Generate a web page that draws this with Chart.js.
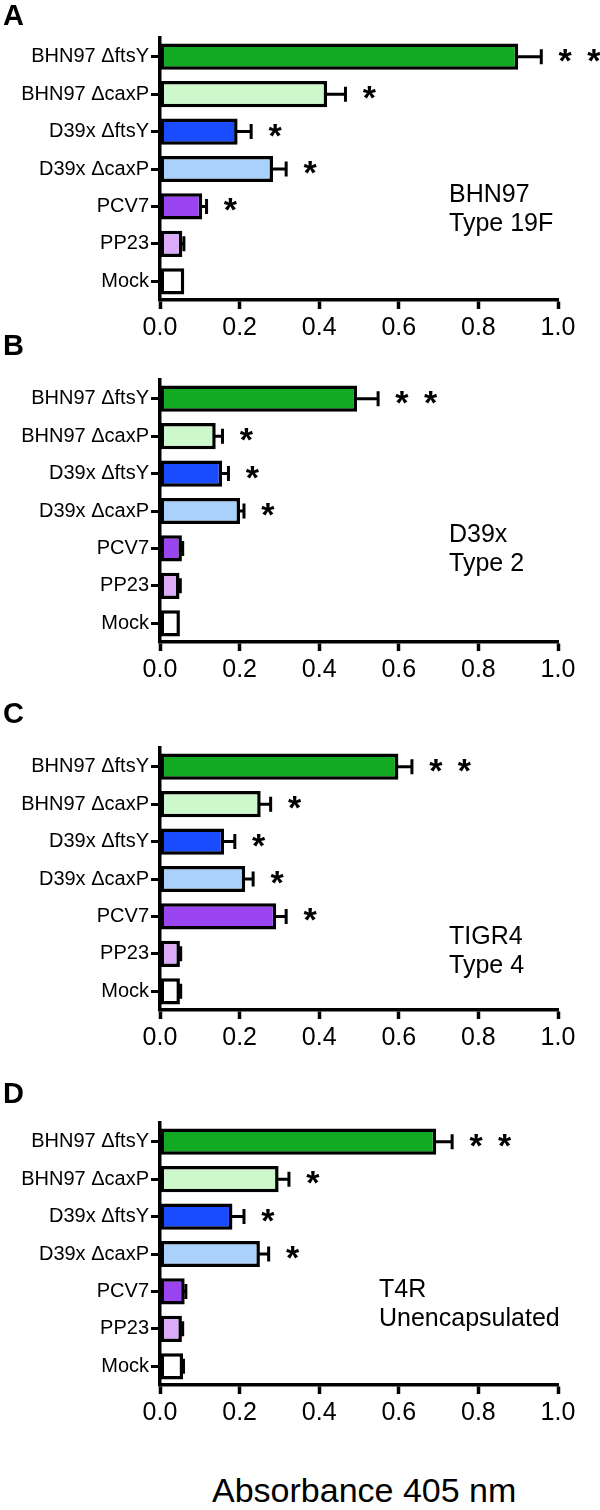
<!DOCTYPE html>
<html>
<head>
<meta charset="utf-8">
<script src="https://cdn.jsdelivr.net/npm/chart.js@4.4.1/dist/chart.umd.min.js"></script>
<style>
  body { margin: 0; background: #fff; width: 600px; height: 1510px; position: relative; overflow: hidden;
         font-family: "Liberation Sans", Arial, sans-serif; }
  .panel { position: absolute; left: 0; width: 600px; }
  #xtitle { position: absolute; left: 212px; top: 1473px; font-size: 34px; line-height: 34px; color: #000; white-space: nowrap; }
</style>
</head>
<body>
<div class="panel" style="top:0px;height:345px"><canvas id="chartA"></canvas></div>
<div class="panel" style="top:320px;height:367px"><canvas id="chartB"></canvas></div>
<div class="panel" style="top:690px;height:365px"><canvas id="chartC"></canvas></div>
<div class="panel" style="top:1070px;height:360px"><canvas id="chartD"></canvas></div>
<div id="xtitle">Absorbance 405 nm</div>
<script>
// groups, top to bottom
const strains = ['BHN97 ΔftsY', 'BHN97 ΔcaxP', 'D39x ΔftsY', 'D39x ΔcaxP', 'PCV7', 'PP23', 'Mock'];
const barColors = ['#12aa22', '#ccf8cc', '#1a4cff', '#a9d1fb', '#9b45f2', '#dcabf7', '#ffffff'];

// A: BHN97 (type 19F)
const meanA = [0.90, 0.42, 0.195, 0.284, 0.106, 0.056, 0.061];
const semA  = [0.058, 0.046, 0.034, 0.033, 0.011, 0.004, 0.0];
const sigA  = ['**', '*', '*', '*', '*', '', ''];

// B: D39x (type 2)
const meanB = [0.495, 0.14, 0.156, 0.201, 0.055, 0.049, 0.05];
const semB  = [0.053, 0.017, 0.016, 0.010, 0.002, 0.002, 0.0];
const sigB  = ['**', '*', '*', '*', '', '', ''];

// C: TIGR4 (type 4)
const meanC = [0.599, 0.253, 0.161, 0.214, 0.292, 0.05, 0.05];
const semC  = [0.034, 0.025, 0.027, 0.020, 0.025, 0.002, 0.002];
const sigC  = ['**', '*', '*', '*', '*', '', ''];

// D: T4R (unencapsulated)
const meanD = [0.694, 0.298, 0.182, 0.251, 0.062, 0.055, 0.058];
const semD  = [0.040, 0.026, 0.029, 0.022, 0.003, 0.002, 0.001];
const sigD  = ['**', '*', '*', '*', '', '', ''];

const FONT = '"Liberation Sans", Arial, sans-serif';

// error bars, stars, panel letter and strain note
const extras = {
    id: 'extras',
    afterDatasetsDraw(chart, args, opts) {
        const ctx = chart.ctx;
        const xs = chart.scales.x;
        const meta = chart.getDatasetMeta(0);
        const area = chart.chartArea;
        ctx.save();
        ctx.strokeStyle = '#000';
        ctx.fillStyle = '#000';
        ctx.lineWidth = 3;
        opts.mean.forEach((m, i) => {
            const cy = meta.data[i].y;
            const top = m + opts.sem[i];
            if (opts.sem[i] > 0) {
                const x0 = xs.getPixelForValue(m) - 1.5;
                const x1 = xs.getPixelForValue(top);
                ctx.beginPath();
                ctx.moveTo(x0, cy);
                ctx.lineTo(x1, cy);
                ctx.moveTo(x1, cy - 7.5);
                ctx.lineTo(x1, cy + 7.5);
                ctx.stroke();
            }
            const n = opts.sig[i].length;
            ctx.font = 'bold 34px ' + FONT;
            ctx.textAlign = 'center';
            ctx.textBaseline = 'alphabetic';
            for (let k = 0; k < n; k++) {
                const sx = xs.getPixelForValue(top + 0.06 + k * 0.072);
                ctx.fillText('*', sx, cy + 15);
            }
        });
        // panel letter
        ctx.font = 'bold 29px ' + FONT;
        ctx.textAlign = 'left';
        ctx.textBaseline = 'middle';
        ctx.fillText(opts.letter, 3, area.top + opts.letterDy);
        // strain note
        ctx.font = '25px ' + FONT;
        opts.note.forEach((line, k) => {
            ctx.fillText(line, opts.noteX, area.top + opts.noteDy + k * 29);
        });
        ctx.restore();
    }
};

function panel(id, letter, mean, sem, sig, note, padTop, letterDy, noteX, noteDy) {
    new Chart(document.getElementById(id), {
        type: 'bar',
        data: {
            labels: strains,
            datasets: [{
                data: mean,
                backgroundColor: barColors,
                borderColor: '#000',
                borderWidth: 3.5,
                borderSkipped: false,
                barPercentage: 0.7,
                categoryPercentage: 1.0
            }]
        },
        options: {
            indexAxis: 'y',
            responsive: true,
            maintainAspectRatio: false,
            animation: false,
            layout: { padding: { top: padTop, right: 42, left: 0, bottom: 0 } },
            plugins: {
                legend: { display: false },
                tooltip: { enabled: false },
                extras: { letter, mean, sem, sig, note, letterDy, noteX, noteDy }
            },
            scales: {
                x: {
                    min: 0,
                    max: 1,
                    ticks: {
                        stepSize: 0.2,
                        color: '#000',
                        font: { size: 25, family: FONT },
                        padding: 4,
                        maxRotation: 0,
                        callback: v => v.toFixed(1)
                    },
                    grid: { drawOnChartArea: false, tickLength: 9, tickWidth: 3.5, tickColor: '#000' },
                    border: { width: 3.5, color: '#000' },
                    afterFit: s => { s.height = 45; }
                },
                y: {
                    ticks: { color: '#000', font: { size: 20, family: FONT }, padding: 2, autoSkip: false },
                    grid: { drawOnChartArea: false, offset: false, tickLength: 9, tickWidth: 3, tickColor: '#000' },
                    border: { width: 3.5, color: '#000' },
                    afterFit: s => { s.width = 160; }
                }
            }
        },
        plugins: [extras]
    });
}

panel('chartA', 'A', meanA, semA, sigA, ['BHN97', 'Type 19F'], 38, -21, 449, 157);
panel('chartB', 'B', meanB, semB, sigB, ['D39x', 'Type 2'], 60, -33, 449, 155);
panel('chartC', 'C', meanC, semC, sigC, ['TIGR4', 'Type 4'], 58, -33, 449, 189);
panel('chartD', 'D', meanD, semD, sigD, ['T4R', 'Unencapsulated'], 53, -28, 379, 167);
</script>
</body>
</html>
